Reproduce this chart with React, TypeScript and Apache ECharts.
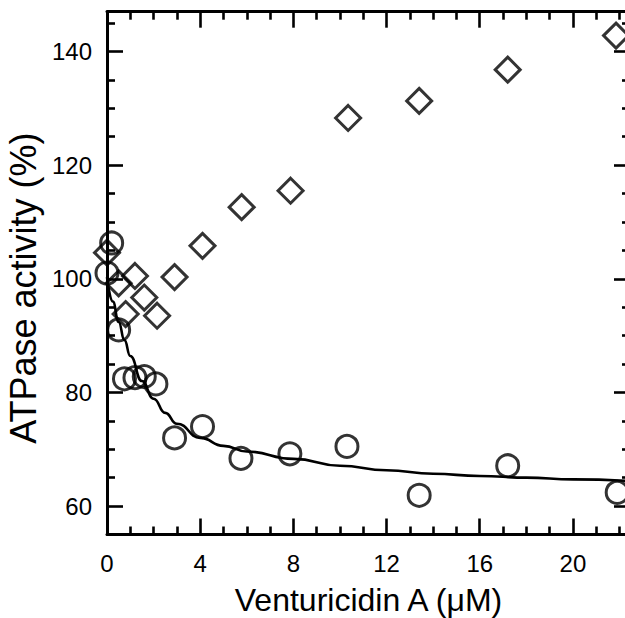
import React, { useEffect, useRef } from "react";
import * as echarts from "echarts";

// Data
const circleX = [0, 0.2, 0.5, 0.75, 1.2, 1.6, 2.1, 2.9, 4.1, 5.75, 7.85, 10.3, 13.4, 17.2, 21.9];
const circleY = [101.0, 106.3, 91.0, 82.4, 82.6, 82.8, 81.5, 72.0, 74.0, 68.4, 69.2, 70.5, 61.9, 67.1, 62.4];

const diamondX = [0, 0.5, 0.8, 1.2, 1.6, 2.15, 2.9, 4.1, 5.78, 7.88, 10.35, 13.4, 17.2, 21.85];
const diamondY = [104.6, 99.2, 93.8, 100.5, 96.7, 93.5, 100.3, 105.8, 112.6, 115.5, 128.3, 131.3, 136.8, 142.8];

const curveX = [0, 0.25, 0.5, 0.75, 1, 1.5, 2, 2.5, 3, 4, 5, 6, 8, 10, 12, 14, 16, 18, 20, 22.45];
const curveY = [100.3, 96.0, 92.4, 89.2, 86.4, 82.0, 78.9, 76.4, 74.5, 72.0, 70.6, 69.6, 68.3, 67.1, 66.3, 65.7, 65.3, 65.0, 64.7, 64.4];

const xMajorTicks = [0, 4, 8, 12, 16, 20];
const xMinorTicks = [1, 2, 3, 5, 6, 7, 9, 10, 11, 13, 14, 15, 17, 18, 19, 21, 22];
const yMajorTicks = [60, 80, 100, 120, 140];
const yMinorTicks = [65, 70, 75, 85, 90, 95, 105, 110, 115, 125, 130, 135, 145];

const X_MIN = 0;
const X_MAX = 22.45;
const Y_MIN = 55;
const Y_MAX = 147;

const FONT = "'Liberation Sans', Arial, sans-serif";

export default function App() {
  const ref = useRef<HTMLDivElement>(null);

  useEffect(() => {
    if (!ref.current) return;
    const chart = echarts.init(ref.current, undefined, { renderer: "svg" });

    const lineStyle = { color: "#000", width: 3 };
    const mkX = (position: string, ticks: number[], len: number, showLine: boolean, labels: boolean, extra: any = {}) => ({
      type: "value",
      position,
      min: X_MIN,
      max: X_MAX,
      axisLine: { show: showLine, onZero: false, lineStyle },
      axisTick: { show: true, inside: true, length: len, customValues: ticks, lineStyle: { color: "#000", width: 2.6 } },
      axisLabel: labels
        ? { show: true, customValues: ticks, fontSize: 24, color: "#000", fontFamily: FONT, margin: 17 }
        : { show: false },
      splitLine: { show: false },
      ...extra,
    });
    const mkY = (position: string, ticks: number[], len: number, showLine: boolean, labels: boolean, extra: any = {}) => ({
      type: "value",
      position,
      min: Y_MIN,
      max: Y_MAX,
      axisLine: { show: showLine, onZero: false, lineStyle },
      axisTick: { show: true, inside: true, length: len, customValues: ticks, lineStyle: { color: "#000", width: 2.6 } },
      axisLabel: labels
        ? { show: true, customValues: ticks, fontSize: 24, color: "#000", fontFamily: FONT, margin: 15 }
        : { show: false },
      splitLine: { show: false },
      ...extra,
    });

    chart.setOption({
      animation: false,
      backgroundColor: "#fff",
      grid: { left: 107, right: -5, top: 11.7, bottom: 83.5, containLabel: false, outerBoundsMode: "none" },
      xAxis: [
        mkX("bottom", xMajorTicks, 16, true, true, {
          name: "Venturicidin A (\u03bcM)",
          nameLocation: "middle",
          nameGap: 49,
          nameTextStyle: { fontSize: 32, color: "#000", fontFamily: FONT },
        }),
        mkX("bottom", xMinorTicks, 8, false, false),
        mkX("top", xMajorTicks, 16, true, false),
        mkX("top", xMinorTicks, 8, false, false),
      ],
      yAxis: [
        mkY("left", yMajorTicks, 16, true, true, {
          name: "ATPase activity (%)",
          nameLocation: "middle",
          nameGap: 62,
          nameTextStyle: { fontSize: 36, color: "#000", fontFamily: FONT, padding: [0, 30, 0, 0] },
        }),
        mkY("left", yMinorTicks, 8, false, false),
        mkY("right", yMajorTicks, 16, true, false),
        mkY("right", yMinorTicks, 8, false, false),
      ],
      series: [
        {
          type: "line",
          xAxisIndex: 0,
          yAxisIndex: 0,
          data: curveX.map((x, i) => [x, curveY[i]]),
          showSymbol: false,
          smooth: 0.5,
          smoothMonotone: "x",
          lineStyle: { color: "#000", width: 2.6 },
          silent: true,
          z: 3,
        },
        {
          type: "scatter",
          xAxisIndex: 0,
          yAxisIndex: 0,
          data: circleX.map((x, i) => [x, circleY[i]]),
          symbol: "circle",
          symbolSize: 22,
          itemStyle: { color: "rgba(0,0,0,0)", borderColor: "#000", borderWidth: 3 },
          silent: true,
          z: 4,
        },
        {
          type: "scatter",
          xAxisIndex: 0,
          yAxisIndex: 0,
          data: diamondX.map((x, i) => [x, diamondY[i]]),
          symbol: "diamond",
          symbolSize: 25,
          itemStyle: { color: "rgba(0,0,0,0)", borderColor: "#000", borderWidth: 3 },
          silent: true,
          z: 4,
        },
      ],
    });

    return () => chart.dispose();
  }, []);

  return (
    <div
      ref={ref}
      style={{ position: "fixed", left: 0, top: 0, width: 625, height: 618, background: "#fff" }}
    />
  );
}
